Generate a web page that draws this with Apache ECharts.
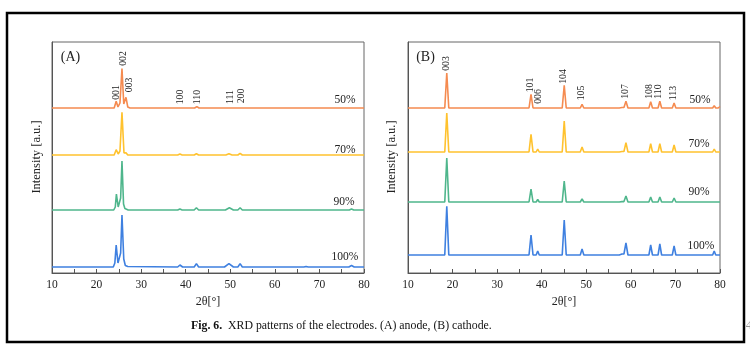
<!DOCTYPE html>
<html><head><meta charset="utf-8">
<script src="https://cdn.jsdelivr.net/npm/echarts@6/dist/echarts.min.js"></script>
<style>html,body{margin:0;padding:0;background:#fff}#c{width:750px;height:348px}</style>
</head><body><div id="c"></div>
<script>
// ---------- DATA ----------
const seriesNames = ['50%', '70%', '90%', '100%'];
const xTicks = [10, 20, 30, 40, 50, 60, 70, 80];
// vertical stacking offsets (a.u.)
const offsetsA = [165, 118, 63, 6];
const offsetsB = [165, 121, 71, 18];

// (A) anode: [2theta, intensity]
const anode50 = [[10,0],[23.95,0],[24.4,6.7],[24.8,1],[25.25,5],[25.7,39.4],[26.1,4],[26.3,4],[26.6,10.7],[27.0,1],[27.5,0],[38.3,0],[38.7,0.6],[39.1,0],[42.0,0],[42.5,1.4],[43.0,0],[49.4,0],[49.8,0.7],[50.2,0],[51.8,0],[52.2,1],[52.6,0],[80,0]];
const anode70 = [[10,0],[23.95,0],[24.4,5.3],[24.85,1],[25.25,4],[25.7,42.7],[26.15,2],[26.35,1],[26.6,2.3],[27.0,0],[38.2,0],[38.7,1],[39.2,0],[41.9,0],[42.4,1.3],[42.9,0],[49.0,0],[49.7,1.3],[50.4,0],[51.7,0],[52.2,1.7],[52.7,0],[80,0]];
const anode90 = [[10,0],[23.85,0],[24.2,3],[24.45,16],[24.85,3],[25.1,3],[25.4,12],[25.7,49],[26.05,6],[26.35,1.5],[26.7,1.5],[27.1,0],[38.2,0],[38.7,1],[39.2,0],[41.9,0],[42.4,2.3],[42.9,0],[48.9,0],[49.8,2.3],[50.7,0],[51.7,0],[52.2,2.3],[52.7,0],[76.7,0],[77.2,1],[77.7,0],[80,0]];
const anode100 = [[10,0],[23.75,0],[24.1,4],[24.4,22],[24.8,4],[25.05,3],[25.4,14],[25.7,52],[26.1,8],[26.45,1.5],[27,0.5],[38.2,0],[38.7,2],[39.3,0],[41.9,0],[42.4,3.4],[42.9,0],[48.7,0],[49.7,3.4],[50.7,0],[51.7,0],[52.2,3.4],[52.7,0],[66.5,0],[67,0.6],[67.5,0],[76.6,0],[77.2,1.5],[77.8,0],[80,0]];

// (B) cathode: [2theta, intensity]
const cathode50 = [[10,0],[18.25,0],[18.7,35],[19.15,0],[26,0],[26.3,0.6],[26.6,0],[37.15,0],[37.6,13.7],[38.05,0],[38.75,0],[39.1,2],[39.45,0],[44.6,0],[45.05,22.7],[45.5,0],[48.65,0],[49.05,3.7],[49.45,0],[57.4,0],[57.7,1.2],[58.0,0.5],[58.45,0.5],[58.9,6.7],[59.35,0],[64.05,0],[64.45,6.4],[64.85,0],[66.1,0],[66.5,6.7],[66.9,0],[69.3,0],[69.7,5],[70.1,0],[76.6,0],[76.9,1],[77.2,0],[78.35,0],[78.7,2.4],[79.05,0],[79.6,0],[80,1.5]];
const cathode70 = [[10,0],[18.25,0],[18.7,39],[19.15,0],[37.15,0],[37.6,17.7],[38.05,0],[38.75,0],[39.1,3],[39.45,0],[44.6,0],[45.05,31],[45.5,0],[48.65,0],[49.05,5],[49.45,0],[57.4,0],[57.7,1.5],[58.0,0.5],[58.45,0.5],[58.9,9.4],[59.35,0],[64.05,0],[64.45,8.4],[64.85,0],[66.1,0],[66.5,8.4],[66.9,0],[69.3,0],[69.7,7],[70.1,0],[76.6,0],[76.9,1],[77.2,0],[78.35,0],[78.7,3],[79.05,0],[80,0]];
const cathode90 = [[10,0],[18.25,0],[18.7,44],[19.15,0],[37.15,0],[37.6,13],[38.05,0],[38.75,0],[39.1,2.5],[39.45,0],[44.6,0],[45.05,21],[45.5,0],[48.65,0],[49.05,3],[49.45,0],[57.4,0],[57.7,1],[58.0,0.4],[58.45,0.4],[58.9,6],[59.35,0],[64.05,0],[64.45,5],[64.85,0],[66.1,0],[66.5,5],[66.9,0],[69.3,0],[69.7,4],[70.1,0],[76.6,0],[76.9,0.5],[77.2,0],[78.35,0],[78.7,1.5],[79.05,0],[80,0]];
const cathode100 = [[10,0],[18.25,0],[18.7,48.6],[19.15,0],[37.15,0],[37.6,20],[38.05,0],[38.75,0],[39.1,4],[39.45,0],[44.6,0],[45.05,35],[45.5,0],[48.65,0],[49.05,6],[49.45,0],[57.4,0],[57.7,2],[58.0,1],[58.45,1],[58.9,12],[59.35,0],[64.05,0],[64.45,10],[64.85,0],[66.1,0],[66.5,11],[66.9,0],[69.3,0],[69.7,9],[70.1,0],[76.6,0],[76.9,2],[77.2,0],[78.35,0],[78.7,4],[79.05,0],[80,0]];

// peak index labels
const hklA = ['001', '002', '003', '100', '110', '111', '200'];
const hklB = ['003', '101', '006', '104', '105', '107', '108', '110', '113'];
const panelTitles = ['(A)', '(B)'];
const xName = '2θ[°]';
const yName = 'Intensity [a.u.]';
const captionBold = 'Fig. 6.';
const captionText = 'XRD patterns of the electrodes. (A) anode, (B) cathode.';

// ---------- STYLE / LAYOUT ----------
const colors = ['#F58B50', '#FFC22E', '#4FB68C', '#3F80E0'];
const serif = '"Liberation Serif", "DejaVu Serif", serif';
const gridA = {left: 52, top: 42, width: 312, height: 231};
const gridB = {left: 408, top: 42, width: 312, height: 231};
const Y_MAX = 231;

// label pixel placements (centers)
const hklPosA = [[116.7,92.5],[123.3,58.5],[129,85],[180.7,97],[197,97],[230.7,97],[241.7,96]];
const hklPosB = [[446,63.5],[530,85],[538,96.5],[563,76.5],[581.7,93],[625,91.5],[649,91.5],[658,91.5],[673,93]];
const pctPosA = [[345,100],[345,149.7],[344,201.5],[345,256.7]];
const pctPosB = [[700,99.5],[699,143.7],[699,192.3],[701,245.7]];

const chart = echarts.init(document.getElementById('c'), null, {renderer: 'canvas'});

function shift(arr, off) { return arr.map(p => [p[0], p[1] + off]); }

function xAxisCfg(gi) {
  return {
    type: 'value', gridIndex: gi, min: 10, max: 80, interval: 10,
    name: xName, nameLocation: 'middle', nameGap: 18,
    nameTextStyle: {fontFamily: serif, fontSize: 12, color: '#222'},
    axisLine: {show: true, lineStyle: {color: '#555', width: 1}},
    axisTick: {show: true, inside: true, length: 4, lineStyle: {color: '#555'}},
    minorTick: {show: true, splitNumber: 2, length: 4, lineStyle: {color: '#555'}},
    axisLabel: {fontFamily: serif, fontSize: 11.5, color: '#222', margin: 6},
    splitLine: {show: false}
  };
}
function yAxisCfg(gi) {
  return {
    type: 'value', gridIndex: gi, min: 0, max: Y_MAX,
    axisLine: {show: true, onZero: false, lineStyle: {color: '#555'}},
    axisTick: {show: false}, axisLabel: {show: false}, splitLine: {show: false}
  };
}

const aData = [anode50, anode70, anode90, anode100];
const bData = [cathode50, cathode70, cathode90, cathode100];
const series = [];
aData.forEach((d, i) => series.push({
  type: 'line', name: 'A ' + seriesNames[i], xAxisIndex: 0, yAxisIndex: 0,
  data: shift(d, offsetsA[i]), showSymbol: false, symbol: 'none',
  lineStyle: {color: colors[i], width: 1.6}, z: 3
}));
bData.forEach((d, i) => series.push({
  type: 'line', name: 'B ' + seriesNames[i], xAxisIndex: 1, yAxisIndex: 1,
  data: shift(d, offsetsB[i]), showSymbol: false, symbol: 'none',
  lineStyle: {color: colors[i], width: 1.6}, z: 3
}));

const graphics = [];
function txt(x, y, text, size, rot, extra) {
  graphics.push({
    type: 'text', x: x, y: y, rotation: rot || 0, silent: true, z: 10,
    style: Object.assign({text: text, fontFamily: serif, fontSize: size, fill: '#222', align: 'center', verticalAlign: 'middle'}, extra || {})
  });
}
hklA.forEach((t, i) => txt(hklPosA[i][0], hklPosA[i][1], t, 9.8, Math.PI / 2));
hklB.forEach((t, i) => txt(hklPosB[i][0], hklPosB[i][1], t, 9.8, Math.PI / 2));
seriesNames.forEach((t, i) => { txt(pctPosA[i][0], pctPosA[i][1], t, 11.5); txt(pctPosB[i][0], pctPosB[i][1], t, 11.5); });
txt(70.5, 57.5, panelTitles[0], 14);
txt(425.5, 57.5, panelTitles[1], 14);
txt(37, 157, yName, 12.5, Math.PI / 2);
txt(392, 157, yName, 12.5, Math.PI / 2);
// caption
graphics.push({
  type: 'text', x: 191, y: 326, silent: true, z: 10,
  style: {
    text: '{b|' + captionBold + '}  ' + captionText,
    fontFamily: serif, fontSize: 11.8, fill: '#111', verticalAlign: 'middle', align: 'left',
    rich: {b: {fontWeight: 'bold', fontFamily: serif, fontSize: 11.8, fill: '#111'}}
  }
});
// outer frame
graphics.push({type: 'rect', silent: true, z: 1, shape: {x: 7, y: 13, width: 737, height: 329},
  style: {fill: 'none', stroke: '#000', lineWidth: 2.5}});
txt(749, 326, '4', 13, 0, {fill: '#999'});

chart.setOption({
  animation: false,
  backgroundColor: '#fff',
  grid: [
    Object.assign({show: true, borderColor: '#666', borderWidth: 1, backgroundColor: 'transparent'}, gridA),
    Object.assign({show: true, borderColor: '#666', borderWidth: 1, backgroundColor: 'transparent'}, gridB)
  ],
  xAxis: [xAxisCfg(0), xAxisCfg(1)],
  yAxis: [yAxisCfg(0), yAxisCfg(1)],
  series: series,
  graphic: graphics
});
</script></body></html>
